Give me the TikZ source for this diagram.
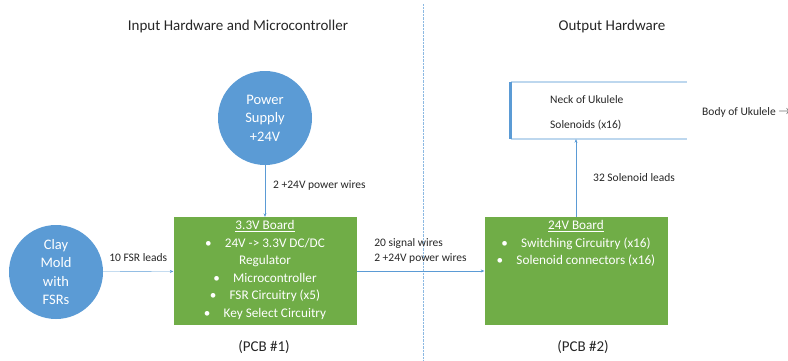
\documentclass[tikz,border=0pt]{standalone}
\usepackage{fontspec}
\setmainfont{Carlito}
\usetikzlibrary{arrows.meta,positioning}
\definecolor{officeblue}{HTML}{5B9BD5}
\definecolor{officegreen}{HTML}{70AD47}
\definecolor{paleblue}{HTML}{BDD7EE}
\definecolor{inkgrey}{HTML}{262626}

\begin{document}
\begin{tikzpicture}[x=1pt,y=-1pt,>={Stealth[length=3.5pt,width=3pt]},
		blob/.style={circle,fill=officeblue,text=white,minimum size=94pt,inner sep=0pt,align=center,font=\fontsize{14.5}{18.5}\selectfont},
		board/.style={rectangle,fill=officegreen,minimum width=183pt,minimum height=108pt,inner sep=2pt},
		boardtext/.style={text=white,align=center,font=\fontsize{13.2}{17.5}\selectfont},
		lead/.style={draw=officeblue,->},
		tag/.style={text=inkgrey,font=\fontsize{11.5}{15}\selectfont,align=left,inner sep=1pt},
		heading/.style={text=inkgrey,font=\fontsize{15}{17}\selectfont}]
		\useasboundingbox (0,0) rectangle (788,360);

		% The headings and the divider
		\node[heading] (inhead) at (238,26) {Input Hardware and Microcontroller};
		\node[heading] (outhead) at (612,26) {Output Hardware};
		\draw[densely dotted,color=officeblue!70] (423,4) -- (423,360);

		% The sources
		\node[blob] (supply) at (265,118) {Power\\Supply\\+24V};
		\node[blob] (mold) at (56,272) {Clay\\Mold\\with\\FSRs};

		% The boards
		\node[board] (pcb1) at (265,271) {};
		\node[boardtext,below=0pt of pcb1.north] (pcb1text) {\underline{3.3V Board}\\
			\textbullet\quad 24V -> 3.3V DC/DC\\
			Regulator\\
			\textbullet\quad Microcontroller\\
			\textbullet\quad FSR Circuitry (x5)\\
			\textbullet\quad Key Select Circuitry};
		\node[board] (pcb2) at (576,271) {};
		\node[boardtext,below=0pt of pcb2.north] (pcb2text) {\underline{24V Board}\\
			\textbullet\quad Switching Circuitry (x16)\\
			\textbullet\quad Solenoid connectors (x16)};
		\node[heading] (pcb1name) at (264,347) {(PCB \#1)};
		\node[heading] (pcb2name) at (583,347) {(PCB \#2)};

		% The neck of the ukulele
		\node[minimum width=176pt,minimum height=57pt,inner sep=0pt] (neck) at (599,110.5) {};
		\draw[color=paleblue,line width=1.5pt] (neck.north west) -- (neck.north east);
		\draw[color=paleblue,line width=1.5pt] (neck.south west) -- (neck.south east);
		\draw[color=officeblue,line width=3pt] (neck.north west) -- (neck.south west);
		\node[tag,anchor=west] (necklabel) at (549,100) {Neck of Ukulele};
		\node[tag,anchor=west] (solenoids) at (549,125) {Solenoids (x16)};
		\node[tag,anchor=west] (body) at (701,112) {Body of Ukulele \raisebox{0.5pt}{$\rightarrow$}};

		% The leads
		\draw[lead] (mold) -- (pcb1) node[tag,midway,above=9pt] {10 FSR leads};
		\draw[lead] (supply) -- (pcb1) node[tag,pos=0.4,right=7pt] {2 +24V power wires};
		\draw[lead] (pcb1) -- (pcb2) node[tag,midway,above=6pt] {20 signal wires\\2 +24V power wires};
		\draw[lead] (pcb2.north) -- (pcb2.north |- neck.south) node[tag,midway,right=16pt] {32 Solenoid leads};
	\end{tikzpicture}
\end{document}
